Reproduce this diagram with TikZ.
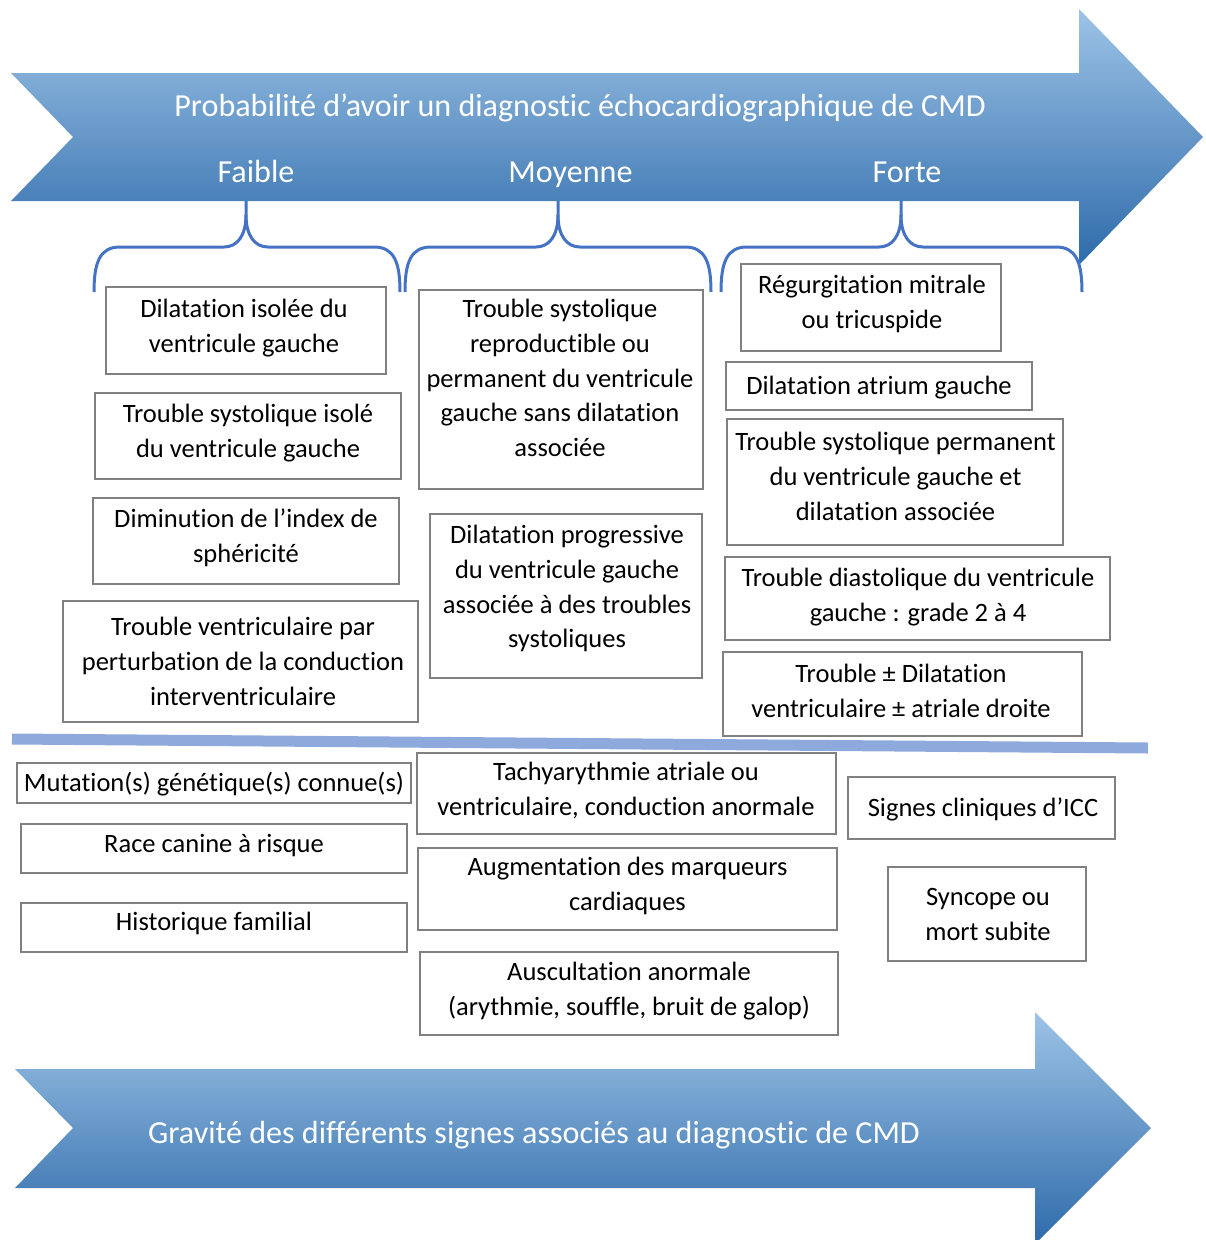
\documentclass[tikz,border=0pt]{standalone}
\usepackage{fontspec}
\setmainfont{Carlito}[Ligatures=NoCommon]
\definecolor{boxgray}{RGB}{128,128,128}
\definecolor{braceblue}{RGB}{68,114,196}
\definecolor{divblue}{RGB}{142,169,219}
\definecolor{arrowtop}{RGB}{157,195,230}
\definecolor{arrowbot}{RGB}{46,107,170}
\begin{document}
\begin{tikzpicture}[x=1pt,y=-1pt,
  box/.style={draw=boxgray, line width=2.4pt, fill=white, inner sep=0pt},
  txt/.style={inner sep=0pt, align=center, font=\fontsize{26.5}{34.8}\selectfont, text=black},
  head/.style={inner sep=0pt, text=white, font=\fontsize{32.1}{37}\selectfont},
  brace/.style={draw=braceblue, line width=3pt, line join=round},
  arrowshape/.style={top color=arrowtop, bottom color=arrowbot, draw=none},
  divline/.style={draw=divblue, line width=11pt}]
\useasboundingbox (0,0) rectangle (1206,1240);
\clip (0,0) rectangle (1206,1240);

% top arrow
\path[arrowshape] (11,73) -- (1079,73) -- (1079,9) -- (1203,137) -- (1079,265) -- (1079,201) -- (11,201) -- (73,137) -- cycle;
\node[head, anchor=base] (title) at (580,116) {Probabilité d’avoir un diagnostic échocardiographique de CMD};
\node[head, anchor=base] (faible) at (256,182) {Faible};
\node[head, anchor=base] (moyenne) at (570.5,182) {Moyenne};
\node[head, anchor=base] (forte) at (907,182) {Forte};

% braces
\foreach \L/\P/\R in {94/246/400, 405/558/711, 721/901/1082}{
  \draw[brace] (\L,292) .. controls (\L,262) and (\L+6,247) .. (\L+26,247)
    -- (\P-22,247) .. controls (\P-9,247) and (\P,236) .. (\P,215) -- (\P,201);
  \draw[brace] (\R,292) .. controls (\R,262) and (\R-6,247) .. (\R-26,247)
    -- (\P+22,247) .. controls (\P+9,247) and (\P,236) .. (\P,215);
}

% left column boxes
\node[box, minimum width=280pt, minimum height=87pt] (b1) at (246,330.5) {};
\node[txt, anchor=north] (t1) at (244,293) {\strut Dilatation isolée du\\ventricule gauche};
\node[box, minimum width=306pt, minimum height=86pt] (b2) at (248,436) {};
\node[txt, anchor=north] (t2) at (248,398) {\strut Trouble systolique isolé\\du ventricule gauche};
\node[box, minimum width=306pt, minimum height=86pt] (b3) at (246,541) {};
\node[txt, anchor=north] (t3) at (246,503) {\strut Diminution de l’index de\\sphéricité};
\node[box, minimum width=355pt, minimum height=121pt] (b4) at (240.5,661.5) {};
\node[txt, anchor=north] (t4) at (243,611) {\strut Trouble ventriculaire par\\perturbation de la conduction\\interventriculaire};

% middle column boxes
\node[box, minimum width=284pt, minimum height=199pt] (b5) at (561,389.5) {};
\node[txt, anchor=north] (t5) at (560,293) {\strut Trouble systolique\\reproductible ou\\permanent du ventricule\\gauche sans dilatation\\associée};
\node[box, minimum width=272pt, minimum height=164pt] (b6) at (566,596) {};
\node[txt, anchor=north] (t6) at (567,519) {\strut Dilatation progressive\\du ventricule gauche\\associée à des troubles\\systoliques};

% right column boxes
\node[box, minimum width=260pt, minimum height=87pt] (b7) at (871,307.5) {};
\node[txt, anchor=north] (t7) at (872,269) {\strut Régurgitation mitrale\\ou tricuspide};
\node[box, minimum width=306pt, minimum height=48pt] (b8) at (879,386) {};
\node[txt, anchor=north] (t8) at (879,370) {\strut Dilatation atrium gauche};
\node[box, minimum width=336pt, minimum height=126pt] (b9) at (895,482) {};
\node[txt, anchor=north] (t9) at (895.5,426) {\strut Trouble systolique permanent\\du ventricule gauche et\\dilatation associée};
\node[box, minimum width=385pt, minimum height=83pt] (b10) at (917.5,598.5) {};
\node[txt, anchor=north] (t10) at (918,562) {\strut Trouble diastolique du ventricule\\gauche : grade 2 à 4};
\node[box, minimum width=359pt, minimum height=84pt] (b11) at (902.5,694) {};
\node[txt, anchor=north] (t11) at (901,658) {\strut Trouble ± Dilatation\\ventriculaire ± atriale droite};

% dividing line
\coordinate (dl) at (12,739);
\coordinate (dr) at (1148,748);
\draw[divline] (dl) -- (dr);

% lower boxes
\node[box, minimum width=394pt, minimum height=40pt] (b12) at (214,783) {};
\node[txt, anchor=north] (t12) at (214,767) {\strut Mutation(s) génétique(s) connue(s)};
\node[box, minimum width=386pt, minimum height=49pt] (b13) at (214,848.5) {};
\node[txt, anchor=north] (t13) at (214,828) {\strut Race canine à risque};
\node[box, minimum width=386pt, minimum height=49pt] (b14) at (214,927.5) {};
\node[txt, anchor=north] (t14) at (214,906) {\strut Historique familial};

\node[box, minimum width=419pt, minimum height=81pt] (b15) at (626.5,793.5) {};
\node[txt, anchor=north] (t15) at (626,756) {\strut Tachyarythmie atriale ou\\ventriculaire, conduction anormale};
\node[box, minimum width=419pt, minimum height=82pt] (b16) at (627.5,889) {};
\node[txt, anchor=north] (t16) at (627.5,851) {\strut Augmentation des marqueurs\\cardiaques};
\node[box, minimum width=418pt, minimum height=83pt] (b17) at (629,993.5) {};
\node[txt, anchor=north] (t17) at (629,956) {\strut Auscultation anormale\\(arythmie, souffle, bruit de galop)};

\node[box, minimum width=267pt, minimum height=62pt] (b18) at (981.5,808) {};
\node[txt, anchor=north] (t18) at (983,792) {\strut Signes cliniques d’ICC};
\node[box, minimum width=198pt, minimum height=94pt] (b19) at (987,914) {};
\node[txt, anchor=north] (t19) at (988,881) {\strut Syncope ou\\mort subite};

% bottom arrow
\path[arrowshape] (15,1069) -- (1035,1069) -- (1035,1012) -- (1151,1128) -- (1035,1244) -- (1035,1188) -- (15,1188) -- (73,1128) -- cycle;
\node[head, anchor=base] (gravite) at (534,1143) {Gravité des différents signes associés au diagnostic de CMD};
\end{tikzpicture}
\end{document}
